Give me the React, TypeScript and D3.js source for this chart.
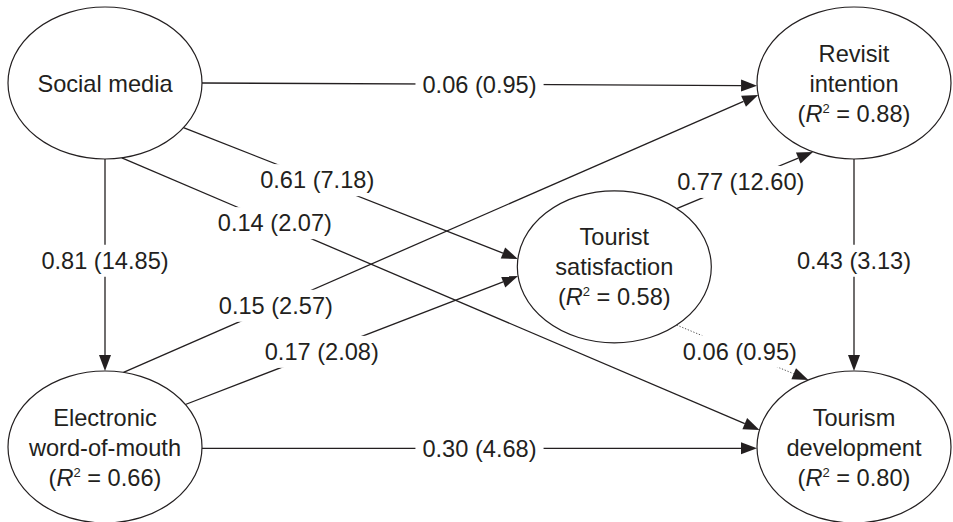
import React, { useEffect, useRef } from 'react'
import * as d3 from 'd3'

// nodes (latent constructs)
const nodeIds = ['sm', 'ewom', 'ts', 'ri', 'td']
const nodeLines = [
    ['Social media'],
    ['Electronic', 'word-of-mouth'],
    ['Tourist', 'satisfaction'],
    ['Revisit', 'intention'],
    ['Tourism', 'development']
]
const nodeR2 = [null, '0.66', '0.58', '0.88', '0.80']
const nodeCol = [0, 0, 0.68, 1, 1]
const nodeRow = [0, 1, 0.505, 0, 1]

// paths: coefficient (t-value)
const edgeFrom = ['sm', 'sm', 'sm', 'sm', 'ewom', 'ewom', 'ewom', 'ts', 'ts', 'ri']
const edgeTo = ['ri', 'ts', 'td', 'ewom', 'ri', 'ts', 'td', 'ri', 'td', 'td']
const edgeCoef = ['0.06', '0.61', '0.14', '0.81', '0.15', '0.17', '0.30', '0.77', '0.06', '0.43']
const edgeTval = ['0.95', '7.18', '2.07', '14.85', '2.57', '2.08', '4.68', '12.60', '0.95', '3.13']
const edgeDotted = [false, false, false, false, false, false, false, false, true, false]
// where each path leaves / enters the ellipse (degrees), and where its label sits
const edgeOutAngle = [0, 36, 80, 90, -79, -34, 1, -50, 50, 90]
const edgeInAngle = [178, 186, 193, -90, 171, 173, 179, 115, 242, 270]
const edgeLabelAt = [0.5, 0.4, 0.24, 0.48, 0.24, 0.41, 0.5, 0.47, 0.48, 0.48]

const W = 953
const H = 522
const INK = '#231f20'

export default function App() {
    const ref = useRef<SVGSVGElement>(null)

    useEffect(() => {
        const svg = d3.select(ref.current)
        svg.selectAll('*').remove()

        const x = d3.scaleLinear().domain([0, 1]).range([105, 854])
        const y = d3.scaleLinear().domain([0, 1]).range([83, 447])
        const rx = 97, ry = 76

        const pos: Record<string, { cx: number, cy: number }> = {}
        nodeIds.forEach((id, i) => { pos[id] = { cx: x(nodeCol[i]), cy: y(nodeRow[i]) } })

        const port = (id: string, deg: number) => {
            const a = deg * Math.PI / 180
            return [pos[id].cx + rx * Math.cos(a), pos[id].cy + ry * Math.sin(a)]
        }

        // ellipses
        const nodes = svg.append('g')
        nodeIds.forEach((id, i) => {
            const g = nodes.append('g')
            g.append('ellipse')
                .attr('cx', pos[id].cx).attr('cy', pos[id].cy)
                .attr('rx', rx).attr('ry', ry)
                .attr('fill', 'white').attr('stroke', INK).attr('stroke-width', 1.2)
            const lines: (string | null)[] = [...nodeLines[i]]
            if (nodeR2[i]) lines.push(null)
            const n = lines.length
            lines.forEach((ln, k) => {
                const t = g.append('text')
                    .attr('x', pos[id].cx)
                    .attr('y', pos[id].cy + (k - (n - 1) / 2) * 30 + 8.5)
                    .attr('text-anchor', 'middle')
                    .attr('font-family', 'Liberation Sans, Arial, sans-serif')
                    .attr('font-size', 23.6)
                    .attr('fill', INK)
                if (ln !== null) {
                    t.text(ln)
                } else {
                    t.append('tspan').text('(')
                    t.append('tspan').attr('font-style', 'italic').text('R')
                    t.append('tspan').attr('font-size', 13).attr('dy', -9).text('2')
                    t.append('tspan').attr('dy', 9).text(' = ' + nodeR2[i] + ')')
                }
            })
        })

        // paths
        const lineG = svg.append('g')
        const labelG = svg.append('g')
        const headG = svg.append('g')
        edgeFrom.forEach((from, i) => {
            const [x0, y0] = port(from, edgeOutAngle[i])
            const [x1, y1] = port(edgeTo[i], edgeInAngle[i])
            const len = Math.hypot(x1 - x0, y1 - y0)
            const ux = (x1 - x0) / len, uy = (y1 - y0) / len
            const hl = 16, hw = 6
            const bx = x1 - ux * hl, by = y1 - uy * hl

            lineG.append('path')
                .attr('d', d3.line()([[x0, y0], [bx, by]]))
                .attr('stroke', edgeDotted[i] ? '#555' : INK)
                .attr('stroke-width', edgeDotted[i] ? 1 : 1.3)
                .attr('stroke-dasharray', edgeDotted[i] ? '1.3 1.7' : null)
                .attr('fill', 'none')

            headG.append('path')
                .attr('d', d3.line()([[x1, y1], [bx - uy * hw, by + ux * hw], [bx + uy * hw, by - ux * hw]]) + 'Z')
                .attr('fill', INK)

            const t = edgeLabelAt[i]
            const lx = x0 + (x1 - x0) * t, ly = y0 + (y1 - y0) * t
            const lab = labelG.append('g')
            const rect = lab.append('rect').attr('fill', 'white')
            const txt = lab.append('text')
                .attr('x', lx).attr('y', ly).attr('dy', '0.35em')
                .attr('text-anchor', 'middle')
                .attr('font-family', 'Liberation Sans, Arial, sans-serif')
                .attr('font-size', 23.6)
                .attr('fill', INK)
                .text(`${edgeCoef[i]} (${edgeTval[i]})`)
            const bb = (txt.node() as SVGTextElement).getBBox()
            rect.attr('x', bb.x - 7).attr('y', ly - 16)
                .attr('width', bb.width + 14).attr('height', 32)
        })
    }, [])

    return (
        <svg ref={ref} width={W} height={H}
            style={{ position: 'absolute', left: 0, top: 0, background: 'white' }} />
    )
}
